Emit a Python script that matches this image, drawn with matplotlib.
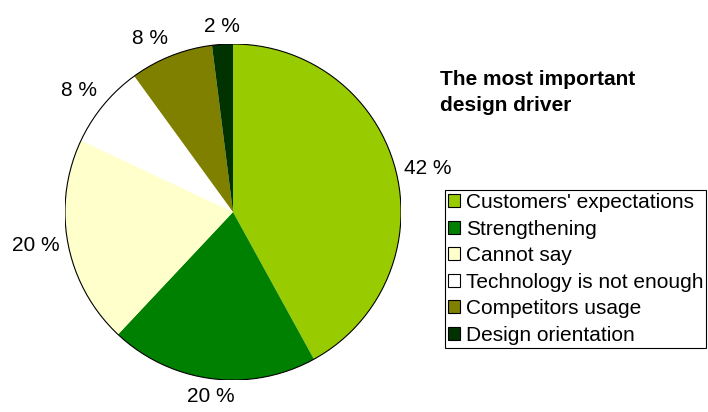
import numpy as np
import matplotlib.pyplot as plt
from matplotlib.patches import Circle

plt.rcParams['font.family'] = ['Liberation Sans', 'DejaVu Sans']

# answers, clockwise from 12 o'clock
drivers = ["Customers' expectations", "Strengthening", "Cannot say",
           "Technology is not enough", "Competitors usage", "Design orientation"]
shares = [42, 20, 20, 8, 8, 2]
colours = ["#99CC00", "#008000", "#FFFFCC", "#FFFFFF", "#808000", "#003300"]

fig = plt.figure(figsize=(7.08, 4.12), dpi=100)
ax = fig.add_axes([65 / 708, 32 / 412, 336 / 708, 336 / 412])

wedges, texts = ax.pie(shares, colors=colours, startangle=90, counterclock=False,
                       labels=[f"{s} %" for s in shares], labeldistance=1.05,
                       wedgeprops=dict(linewidth=0),
                       textprops=dict(fontsize=15))

# anchor each label on the side facing the pie so it sits just outside the rim
for w, t in zip(wedges, texts):
    a = np.deg2rad((w.theta1 + w.theta2) / 2)
    c, s = np.cos(a), np.sin(a)
    t.set_horizontalalignment("left" if c > 0.3 else "right" if c < -0.3 else "center")
    t.set_verticalalignment("bottom" if s > 0.3 else "top" if s < -0.3 else "center")

# thin outline round the whole pie only
ax.add_patch(Circle((0, 0), 1, fill=False, edgecolor="black", linewidth=0.8))
ax.set_xlim(-1, 1)
ax.set_ylim(-1, 1)
ax.set_aspect("equal")

fig.text(440 / 708, 1 - 70 / 412, "The most important\ndesign driver",
         fontsize=15, fontweight="bold", ha="left", va="top", linespacing=1.45)

leg = fig.legend(wedges, drivers, loc="upper left",
                 bbox_to_anchor=(445 / 708, 1 - 190 / 412),
                 fontsize=15, frameon=True, fancybox=False,
                 edgecolor="black", framealpha=1,
                 handlelength=0.55, handleheight=0.55, handletextpad=0.3,
                 labelspacing=0.36, borderpad=0.15, borderaxespad=0)
leg.get_frame().set_linewidth(0.8)
for h in leg.legend_handles:
    h.set_edgecolor("black")
    h.set_linewidth(0.8)

fig.savefig("out.png", dpi=100)
